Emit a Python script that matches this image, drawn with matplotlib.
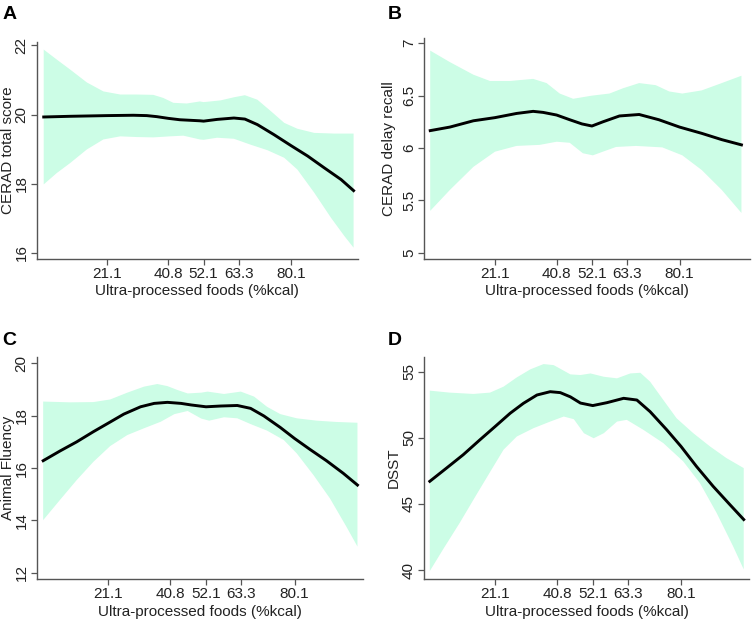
import numpy as np
import matplotlib.pyplot as plt

plt.rcParams['font.family'] = ['Liberation Sans', 'DejaVu Sans']

# --- données ---
xticks = [21.1, 40.8, 52.1, 63.3, 80.1]
xticklabels = ['21.1', '40.8', '52.1', '63.3', '80.1']

# A : CERAD total score
a_x = [0.9, 9.4, 21.1, 29.6, 33.9, 37.1, 40.8, 44.5, 50.9, 52.1, 56.4, 61.8, 65.3,
       69.3, 74.6, 80.1, 85.4, 90.7, 96.1, 100.1]
a_y = [19.93, 19.95, 19.97, 19.98, 19.97, 19.94, 19.89, 19.85, 19.82, 19.81, 19.86,
       19.90, 19.87, 19.71, 19.42, 19.10, 18.80, 18.46, 18.12, 17.80]
a_hi_x = [0.9, 5.1, 9.4, 14.7, 20.0, 25.4, 30.7, 36.0, 39.2, 42.4, 46.7, 50.9, 52.1,
          57.5, 61.8, 65.3, 69.3, 73.6, 77.9, 82.1, 87.5, 93.9, 100.1]
a_hi = [21.88, 21.59, 21.30, 20.93, 20.67, 20.58, 20.58, 20.57, 20.48, 20.34, 20.32,
        20.38, 20.36, 20.41, 20.50, 20.56, 20.43, 20.10, 19.76, 19.59, 19.47, 19.45, 19.45]
a_lo_x = [0.9, 5.1, 9.4, 14.7, 20.0, 25.4, 30.7, 36.0, 41.3, 45.6, 50.9, 52.1, 56.4,
          61.8, 67.1, 72.5, 77.9, 82.1, 87.5, 92.9, 97.2, 100.1]
a_lo = [17.98, 18.31, 18.60, 18.99, 19.28, 19.37, 19.35, 19.34, 19.37, 19.39, 19.28,
        19.27, 19.33, 19.30, 19.13, 18.97, 18.75, 18.41, 17.74, 17.01, 16.48, 16.15]

# B : CERAD delay recall
b_x = [0.4, 6.7, 14.2, 21.1, 28.0, 33.3, 36.5, 40.8, 45.0, 48.9, 52.1, 55.6, 60.9,
       67.2, 73.5, 80.1, 87.2, 93.6, 99.9]
b_y = [6.166, 6.20, 6.26, 6.29, 6.33, 6.35, 6.34, 6.315, 6.27, 6.23, 6.21, 6.25, 6.306,
       6.32, 6.27, 6.20, 6.14, 6.08, 6.03]
b_hi_x = [0.4, 6.7, 14.2, 19.5, 25.9, 33.3, 37.6, 41.8, 46.1, 52.1, 57.7, 62.0, 67.2,
          72.5, 76.8, 81.0, 87.2, 93.6, 99.9]
b_hi = [6.93, 6.82, 6.70, 6.64, 6.64, 6.66, 6.62, 6.52, 6.47, 6.50, 6.52, 6.57, 6.62,
        6.60, 6.54, 6.52, 6.55, 6.62, 6.69]
b_lo_x = [0.4, 6.7, 14.2, 21.1, 28.0, 35.4, 40.8, 45.0, 49.2, 52.4, 55.6, 59.8, 66.2,
          74.6, 81.0, 87.2, 93.6, 99.9]
b_lo = [5.40, 5.60, 5.82, 5.965, 6.02, 6.03, 6.06, 6.05, 5.95, 5.93, 5.965, 6.01, 6.02,
        6.006, 5.93, 5.79, 5.60, 5.38]

# C : Animal Fluency
c_x = [0.6, 5.9, 11.2, 16.5, 21.1, 26.1, 31.4, 35.7, 39.9, 44.2, 47.4, 52.1, 56.8,
       62.0, 66.2, 70.4, 75.6, 80.1, 85.0, 90.2, 95.5, 100.0]
c_y = [16.28, 16.65, 17.00, 17.39, 17.71, 18.06, 18.34, 18.47, 18.51, 18.47, 18.41,
       18.34, 18.37, 18.39, 18.28, 17.99, 17.55, 17.13, 16.71, 16.28, 15.80, 15.35]
c_hi_x = [0.6, 9.1, 16.5, 21.8, 27.2, 32.5, 36.7, 39.9, 43.1, 46.3, 50.6, 52.6, 57.8,
          63.1, 67.3, 71.4, 75.6, 80.8, 87.1, 93.4, 100.0]
c_hi = [18.54, 18.51, 18.52, 18.62, 18.88, 19.11, 19.21, 19.13, 18.98, 18.85, 18.88,
        18.92, 18.83, 18.92, 18.73, 18.34, 18.06, 17.90, 17.81, 17.76, 17.73]
c_lo_x = [0.6, 5.9, 11.2, 16.5, 21.8, 27.2, 32.5, 37.8, 42.1, 46.3, 50.6, 53.1, 57.8,
          62.0, 66.2, 71.4, 76.7, 80.8, 86.1, 91.3, 96.5, 100.0]
c_lo = [14.01, 14.78, 15.54, 16.24, 16.84, 17.26, 17.52, 17.77, 18.06, 18.18, 17.89,
        17.81, 17.94, 17.90, 17.68, 17.43, 17.07, 16.56, 15.73, 14.84, 13.76, 13.00]

# D : DSST
d_x = [0.4, 5.7, 11.0, 16.3, 21.1, 25.9, 30.1, 34.4, 38.6, 41.8, 45.0, 48.2, 52.1,
       56.6, 61.9, 66.1, 70.3, 75.6, 80.1, 85.0, 90.3, 95.6, 100.0]
d_y = [46.71, 47.71, 48.72, 49.85, 50.85, 51.86, 52.61, 53.24, 53.49, 53.42, 53.10,
       52.63, 52.44, 52.66, 52.99, 52.86, 51.98, 50.60, 49.35, 47.84, 46.33, 44.95, 43.82]
d_hi_x = [0.4, 6.7, 14.2, 19.5, 23.8, 28.0, 32.3, 36.5, 39.7, 42.9, 45.0, 48.2, 51.4,
          55.6, 59.8, 64.0, 67.2, 70.3, 74.5, 78.7, 84.0, 89.3, 94.5, 100.0]
d_hi = [53.57, 53.42, 53.32, 53.42, 53.87, 54.57, 55.18, 55.58, 55.50, 55.08, 54.80,
        54.75, 54.87, 54.62, 54.50, 54.87, 54.92, 54.25, 52.86, 51.48, 50.35, 49.35,
        48.47, 47.71]
d_lo_x = [0.4, 4.6, 9.9, 15.2, 20.6, 23.8, 28.0, 33.3, 38.6, 42.9, 46.1, 49.3, 52.4,
          55.6, 59.8, 62.9, 68.2, 74.5, 80.8, 86.1, 91.4, 96.6, 100.0]
d_lo = [39.92, 41.56, 43.57, 45.70, 47.84, 49.10, 50.10, 50.73, 51.23, 51.61, 51.41,
        50.35, 49.97, 50.35, 51.23, 51.36, 50.60, 49.60, 48.22, 46.58, 44.32, 41.81, 40.05]

# couleurs
bande = '#ccfde6'
gris = '#555555'


def trace_panneau(ax, x, y, hx, hy, lx, ly, yticks, yticklabels, ylim, xlim, ylabel,
                  ylab_x, lettre):
    # bande de confiance (polygone haut + bas)
    px = np.concatenate([hx, lx[::-1]])
    py = np.concatenate([hy, ly[::-1]])
    ax.fill(px, py, color=bande, lw=0, zorder=1)
    ax.plot(x, y, color='black', lw=2.1, zorder=3, solid_joinstyle='round')

    ax.set_xlim(xlim)
    ax.set_ylim(ylim)
    ax.set_xticks(xticks)
    ax.set_xticklabels(xticklabels)
    ax.set_yticks(yticks)
    ax.set_yticklabels(yticklabels, rotation=90, va='center')

    for s in ['top', 'right']:
        ax.spines[s].set_visible(False)
    for s in ['left', 'bottom']:
        ax.spines[s].set_color(gris)
        ax.spines[s].set_linewidth(1.0)
    ax.tick_params(direction='out', length=4, width=0.9, color=gris,
                   labelsize=11, labelcolor='#222222', pad=2)

    ax.set_xlabel('Ultra-processed foods (%kcal)', fontsize=11, color='#222222')
    ax.xaxis.set_label_coords(0.5, -0.115)
    ax.set_ylabel(ylabel, fontsize=11, color='#222222')
    ax.yaxis.set_label_coords(ylab_x, 0.5)

    ax.text(lettre[1], lettre[2], lettre[0], transform=fig.transFigure,
            fontsize=14, fontweight='bold', va='top', ha='left')


fig = plt.figure(figsize=(7.52, 6.21), dpi=100)

axA = fig.add_axes([0.049, 0.5834, 0.427, 0.349])
axB = fig.add_axes([0.5642, 0.5834, 0.433, 0.355])
axC = fig.add_axes([0.049, 0.0676, 0.4335, 0.357])
axD = fig.add_axes([0.5642, 0.0676, 0.4315, 0.357])

trace_panneau(axA, a_x, a_y, a_hi_x, a_hi, a_lo_x, a_lo,
              [16, 18, 20, 22], ['16', '18', '20', '22'], (15.83, 22.1), (-1.3, 101.5),
              'CERAD total score', -0.068, ('A', 0.003, 0.99))
trace_panneau(axB, b_x, b_y, b_hi_x, b_hi, b_lo_x, b_lo,
              [5, 5.5, 6, 6.5, 7], ['5', '5.5', '6', '6.5', '7'], (4.943, 7.048),
              (-1.5, 102.6), 'CERAD delay recall', -0.087, ('B', 0.516, 0.99))
trace_panneau(axC, c_x, c_y, c_hi_x, c_hi, c_lo_x, c_lo,
              [12, 14, 16, 18, 20], ['12', '14', '16', '18', '20'], (11.76, 20.23),
              (-1.4, 101.7), 'Animal Fluency', -0.067, ('C', 0.003, 0.466))
trace_panneau(axD, d_x, d_y, d_hi_x, d_hi, d_lo_x, d_lo,
              [40, 45, 50, 55], ['40', '45', '50', '55'], (39.32, 56.09),
              (-1.35, 101.6), 'DSST', -0.072, ('D', 0.516, 0.466))

fig.savefig('out.png', dpi=100)
